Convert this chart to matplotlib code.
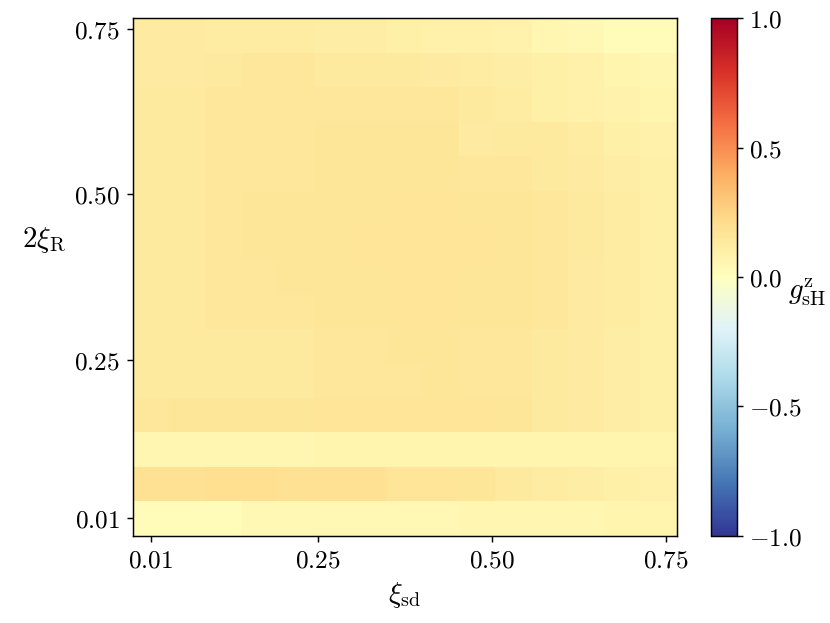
import numpy as np
import matplotlib
matplotlib.use("Agg")
import matplotlib.pyplot as plt

plt.rcParams['mathtext.fontset'] = 'cm'
plt.rcParams['font.size'] = 14

# grid centres (xi_sd along x, 2 xi_R along y)
xi_sd = np.linspace(0.01, 0.74, 15)
xi_R2 = np.linspace(0.01, 0.74, 15)

# g_sH^z, one row per 2xi_R value, bottom row first
g_sH = [
    [0.03, 0.03, 0.03, 0.04, 0.04, 0.05, 0.05, 0.05, 0.05, 0.06, 0.06, 0.06, 0.06, 0.07, 0.07],
    [0.19, 0.19, 0.20, 0.20, 0.19, 0.19, 0.19, 0.17, 0.17, 0.16, 0.14, 0.12, 0.11, 0.10, 0.09],
    [0.06, 0.06, 0.06, 0.06, 0.06, 0.07, 0.07, 0.07, 0.07, 0.07, 0.07, 0.07, 0.07, 0.07, 0.07],
    [0.15, 0.16, 0.16, 0.16, 0.16, 0.17, 0.17, 0.17, 0.17, 0.17, 0.16, 0.14, 0.13, 0.11, 0.10],
    [0.14, 0.14, 0.14, 0.14, 0.14, 0.15, 0.15, 0.15, 0.16, 0.15, 0.15, 0.14, 0.13, 0.11, 0.10],
    [0.14, 0.14, 0.14, 0.14, 0.14, 0.15, 0.15, 0.16, 0.16, 0.15, 0.15, 0.14, 0.13, 0.11, 0.10],
    [0.14, 0.14, 0.15, 0.15, 0.15, 0.16, 0.16, 0.17, 0.17, 0.16, 0.16, 0.15, 0.13, 0.12, 0.10],
    [0.14, 0.14, 0.15, 0.15, 0.16, 0.16, 0.16, 0.17, 0.17, 0.16, 0.16, 0.15, 0.13, 0.12, 0.10],
    [0.14, 0.14, 0.15, 0.16, 0.16, 0.16, 0.17, 0.17, 0.17, 0.17, 0.16, 0.15, 0.14, 0.12, 0.10],
    [0.14, 0.14, 0.15, 0.16, 0.16, 0.16, 0.16, 0.17, 0.17, 0.16, 0.16, 0.15, 0.14, 0.12, 0.10],
    [0.14, 0.14, 0.15, 0.15, 0.15, 0.16, 0.16, 0.16, 0.16, 0.15, 0.15, 0.14, 0.13, 0.11, 0.10],
    [0.14, 0.14, 0.15, 0.15, 0.15, 0.16, 0.16, 0.16, 0.16, 0.13, 0.14, 0.14, 0.12, 0.10, 0.09],
    [0.14, 0.14, 0.15, 0.15, 0.15, 0.15, 0.15, 0.15, 0.15, 0.14, 0.12, 0.10, 0.09, 0.08, 0.07],
    [0.13, 0.13, 0.14, 0.15, 0.15, 0.14, 0.14, 0.14, 0.13, 0.12, 0.11, 0.10, 0.09, 0.07, 0.06],
    [0.13, 0.13, 0.12, 0.12, 0.12, 0.11, 0.11, 0.10, 0.09, 0.09, 0.08, 0.06, 0.04, 0.03, 0.03],
]

ticks = [0.01, 0.25, 0.50, 0.75]
tick_labels = [r'$0.01$', r'$0.25$', r'$0.50$', r'$0.75$']
cb_ticks = [-1.0, -0.5, 0.0, 0.5, 1.0]
cb_labels = [r'$-1.0$', r'$-0.5$', r'$0.0$', r'$0.5$', r'$1.0$']

fig = plt.figure(figsize=(830 / 130, 623 / 130), dpi=130)
ax = fig.add_axes([0.1599, 0.1401, 0.6554, 0.8305])
cax = fig.add_axes([0.8566, 0.1401, 0.031, 0.8305])

mesh = ax.pcolormesh(xi_sd, xi_R2, np.array(g_sH), cmap='RdYlBu_r',
                     vmin=-1, vmax=1, shading='nearest')

ax.set_xticks(ticks)
ax.set_xticklabels(tick_labels)
ax.set_yticks(ticks)
ax.set_yticklabels(tick_labels)
ax.set_xlabel(r'$\xi_{\rm sd}$', fontsize=16)
ax.set_ylabel(r'$2\xi_{\rm R}$', fontsize=16, rotation=0, ha='center', va='center')
ax.yaxis.set_label_coords(-0.163, 0.571)

cb = fig.colorbar(mesh, cax=cax)
cb.set_ticks(cb_ticks)
cb.set_ticklabels(cb_labels)
cb.set_label(r'$g^{\rm z}_{\rm sH}$', fontsize=16, rotation=0, ha='left', va='center')
cax.yaxis.set_label_coords(3.0, 0.47)

fig.savefig('out.png', dpi=130)
